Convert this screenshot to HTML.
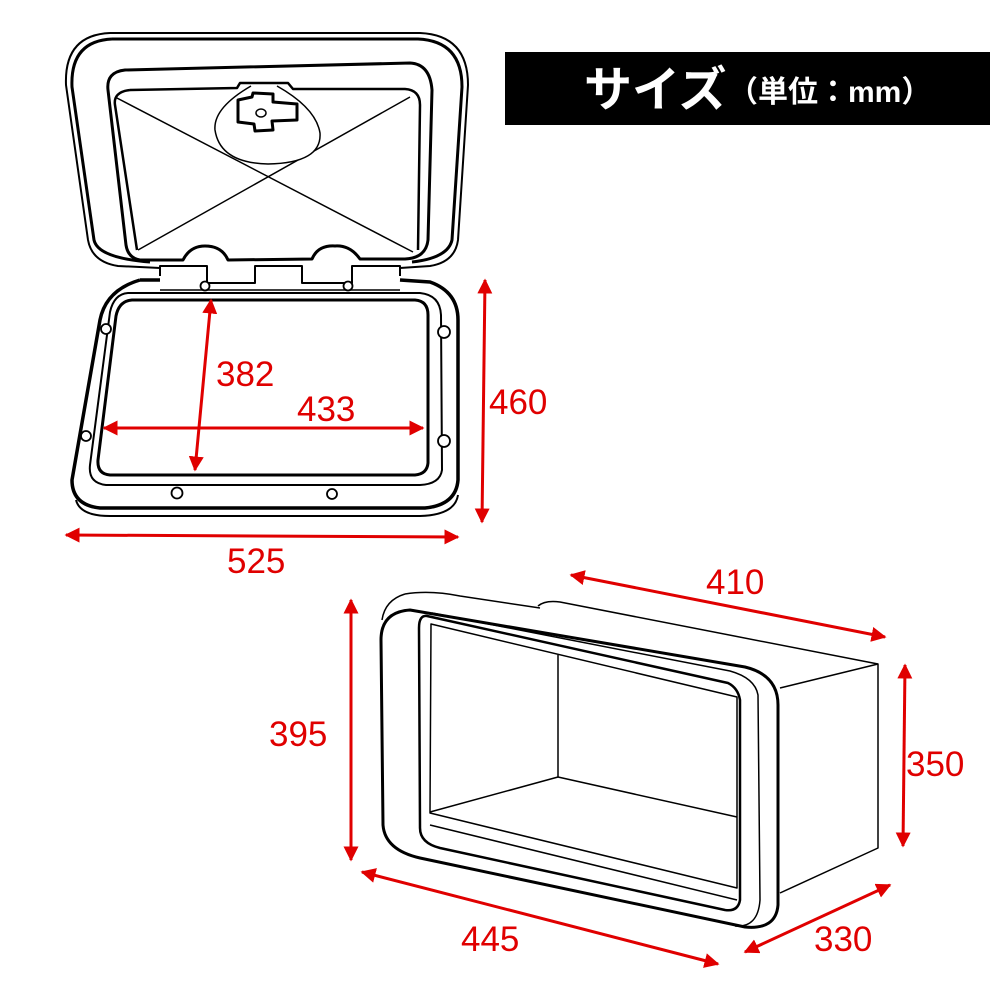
<!DOCTYPE html>
<html><head><meta charset="utf-8"><style>
html,body{margin:0;padding:0;background:#fff;}
svg{display:block}
text{font-family:"Liberation Sans","Noto Sans CJK JP",sans-serif;}
</style></head><body>
<svg width="1000" height="1000" viewBox="0 0 1000 1000" xmlns="http://www.w3.org/2000/svg">
<defs>
<marker id="a" viewBox="0 0 10 10" refX="9" refY="5" markerWidth="5" markerHeight="5" orient="auto-start-reverse" markerUnits="strokeWidth">
<path d="M0,0 L10,5 L0,10 z" fill="#e00000"/></marker>
</defs>
<!-- Title -->
<rect x="505" y="52" width="485" height="73" fill="#000"/>
<text x="584" y="106" fill="#fff" font-size="48" font-weight="bold">サイズ</text>
<text x="728" y="102" fill="#fff" font-size="30" font-weight="bold">（単位：mm）</text>

<g fill="none" stroke="#000" stroke-linejoin="round">
<!-- Lid -->
<path d="M110,33 L420,33 Q468,35 468,85 L458,240 Q455,262 430,266 L400,268" stroke-width="2"/>
<path d="M110,33 Q64,35 66,85 L88,240 Q92,262 118,266 L160,268" stroke-width="2"/>
<path d="M112,39 L418,39 Q462,41 462,87 L452,240 Q448,258 412,262" stroke-width="3"/>
<path d="M112,39 Q70,41 72,87 L94,240 Q98,258 150,262" stroke-width="3"/>
<path d="M125,70 L410,63 Q430,64 432,90 L428,240 Q426,258 405,259 L360,259 Q350,245 335,246 Q318,245 312,259 L228,260 Q222,246 205,246 Q190,246 183,260 L140,260 Q128,258 126,245 L108,90 Q106,72 125,70 Z" stroke-width="3"/>
<path d="M130,90 L237,88 L240,83 L288,83 L293,89 L405,89 Q420,90 420,105 L418,250" stroke-width="2.5"/>
<path d="M130,90 Q113,92 115,105 L137,250" stroke-width="2.5"/>
<line x1="115" y1="97" x2="413" y2="252" stroke-width="1.5"/>
<line x1="410" y1="97" x2="138" y2="250" stroke-width="1.5"/>
<path d="M251,86 Q213,108 215,130 Q220,163 268,164 Q322,163 320,133 Q316,108 277,86" stroke-width="1.5" fill="#fff"/>
<path d="M238,100 L252,97 L253,93 L273,94 L273,102 L297,104 L297,120 L272,121 L273,130 L255,131 L254,124 L238,122 Z" stroke-width="3"/>
<ellipse cx="261" cy="113" rx="5" ry="4" stroke-width="1.5"/>
<!-- hinge strip -->
<path d="M160,276 L160,266 L207,266 L207,283 L255,283 L255,266 L302,266 L302,283 L352,283 L352,266 L400,266 L400,276" stroke-width="2"/>
<line x1="160" y1="290" x2="400" y2="290" stroke-width="1.5"/>
<!-- Lower frame -->
<path d="M140,280 L160,280 M400,280 L430,282 Q458,292 458,320 L458,480 Q456,505 425,508 L100,508 Q72,505 72,480 L100,320 Q106,290 140,280" stroke-width="3.5"/>
<path d="M76,500 Q80,516 110,516 L420,516 Q455,515 458,495" stroke-width="2"/>
<path d="M128,293 L420,293 Q440,295 441,315 L442,470 Q440,484 420,485 L106,485 Q88,483 90,465 L110,312 Q114,294 128,293 Z" stroke-width="2"/>
<path d="M132,300 L415,300 Q428,301 428,315 L428,463 Q427,474 415,475 L110,475 Q97,474 98,460 L116,316 Q119,301 132,300 Z" stroke-width="3"/>
<g stroke-width="1.8" fill="#fff">
<circle cx="106" cy="329" r="5"/><circle cx="86" cy="436" r="5"/>
<circle cx="205" cy="286" r="4.5"/><circle cx="348" cy="286" r="4.5"/>
<circle cx="177" cy="493" r="5.5"/><circle cx="332" cy="494" r="5"/>
<circle cx="444" cy="332" r="6"/><circle cx="444" cy="441" r="6"/>
</g>

<!-- Box -->
<path d="M405,594 Q430,590 460,596 L540,608" stroke-width="1.5"/>
<path d="M538,606 Q545,600 560,602 L878,664 L878,848 L780,893" stroke-width="1.5"/>
<path d="M780,688 L878,664" stroke-width="1.5"/>
<path d="M405,594 Q385,600 382,620" stroke-width="1.5"/>
<path d="M410,610 L745,667 Q778,675 778,705 L778,905 Q776,930 745,927 L420,858 Q385,850 383,825 L381,640 Q381,612 410,610 Z" stroke-width="3"/>
<path d="M432,613 L730,671 Q755,678 758,695 L760,900 Q758,928 735,926" stroke-width="1.5"/>
<path d="M427,616 L728,683 Q738,688 740,700 L740,900 Q738,912 725,910 L440,848 Q420,843 420,828 L419,628 Q419,615 427,616 Z" stroke-width="2.5"/>
<path d="M431,624 L737,697 L737,888 L430,813 Z" stroke-width="1.5"/>
<line x1="558" y1="655" x2="558" y2="777" stroke-width="1.5"/>
<line x1="430" y1="812" x2="558" y2="777" stroke-width="1.5"/>
<line x1="558" y1="777" x2="737" y2="817" stroke-width="1.5"/>
<line x1="430" y1="825" x2="737" y2="900" stroke-width="1.5"/>
</g>

<!-- Red dimensions -->
<g stroke="#e00000" stroke-width="3" fill="none">
<line x1="211" y1="300" x2="195" y2="470" marker-start="url(#a)" marker-end="url(#a)"/>
<line x1="104" y1="428" x2="423" y2="428" marker-start="url(#a)" marker-end="url(#a)"/>
<line x1="485" y1="280" x2="482" y2="522" marker-start="url(#a)" marker-end="url(#a)"/>
<line x1="66" y1="535" x2="458" y2="537" marker-start="url(#a)" marker-end="url(#a)"/>
<line x1="571" y1="575" x2="885" y2="637" marker-start="url(#a)" marker-end="url(#a)"/>
<line x1="351" y1="600" x2="351" y2="860" marker-start="url(#a)" marker-end="url(#a)"/>
<line x1="905" y1="665" x2="903" y2="846" marker-start="url(#a)" marker-end="url(#a)"/>
<line x1="362" y1="872" x2="718" y2="964" marker-start="url(#a)" marker-end="url(#a)"/>
<line x1="745" y1="952" x2="890" y2="885" marker-start="url(#a)" marker-end="url(#a)"/>
</g>
<g fill="#e00000" font-size="35">
<text x="216" y="386">382</text>
<text x="297" y="421">433</text>
<text x="489" y="414">460</text>
<text x="227" y="573">525</text>
<text x="706" y="594">410</text>
<text x="269" y="746">395</text>
<text x="906" y="776">350</text>
<text x="461" y="951">445</text>
<text x="814" y="951">330</text>
</g>
</svg>
</body></html>
